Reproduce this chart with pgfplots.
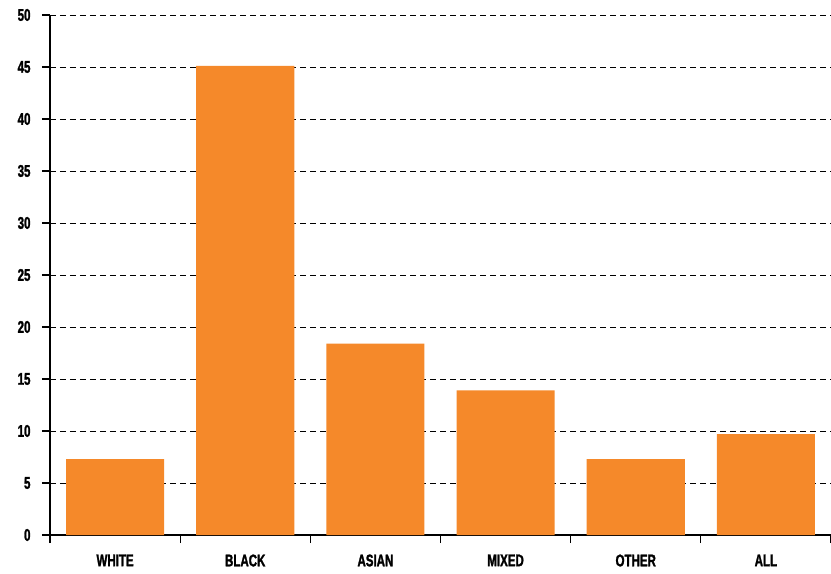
\documentclass[border=0pt]{standalone}
\usepackage{fontspec}
\setmainfont{Liberation Sans}[FakeStretch=0.68, BoldFeatures={FakeBold=1.5}]
\usepackage{pgfplots}
\pgfplotsset{compat=1.18}
\definecolor{barorange}{HTML}{F5892A}

\begin{document}
\begin{tikzpicture}
    \begin{axis}[
        scale only axis,
        width=781bp,
        height=520bp,
        ymin=0, ymax=50,
        ytick={0,5,...,50},
        xmin=-0.5, xmax=5.5,
        xtick={-0.5,0.5,...,5.5},
        xticklabels={},
        extra x ticks={0,...,5},
        extra x tick labels={WHITE, BLACK, ASIAN, MIXED, OTHER, ALL},
        extra x tick style={major tick length=0pt},
        axis x line=bottom,
        axis y line=left,
        axis line style={-, line width=1.3bp, black},
        tick style={line width=1.1bp, black},
        major tick length=8bp,
        tick align=outside,
        ymajorgrids,
        major grid style={dashed, dash pattern=on 6bp off 4bp, line width=0.9bp, black},
        /pgf/number format/assume math mode=true,
        ticklabel style={font=\fontsize{17}{17}\selectfont\bfseries},
        yticklabel style={xshift=-8bp},
        xticklabel style={yshift=-16bp},
        bar width=0.754,
        clip=false,
    ]
        \addplot[ybar, fill=barorange, draw=none] coordinates {
            (0,7.3) (1,45.1) (2,18.4) (3,13.9) (4,7.3) (5,9.7)
        };
    \end{axis}
    \pgfresetboundingbox
    \path[use as bounding box] (-50bp,-39bp) rectangle (781bp,535bp);
\end{tikzpicture}
\end{document}
